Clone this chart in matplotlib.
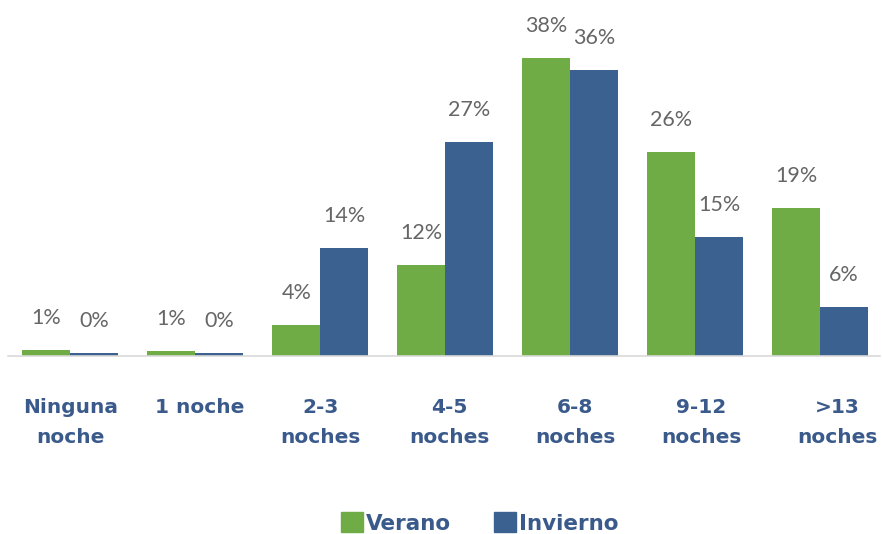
import matplotlib
matplotlib.use("Agg")
import matplotlib.pyplot as plt
import matplotlib.transforms as mtransforms
import numpy as np
from matplotlib.patches import Patch

categories = ["Ninguna\nnoche", "1 noche", "2-3\nnoches", "4-5\nnoches", "6-8\nnoches", "9-12\nnoches", ">13\nnoches"]
verano = [0.8, 0.7, 4.0, 11.6, 38.0, 26.0, 18.9]
invierno = [0.4, 0.4, 13.8, 27.3, 36.5, 15.2, 6.3]
series_names = ["Verano", "Invierno"]

green = "#6FAC46"
blue = "#3A6190"
label_blue = "#3A5A8C"
val_gray = "#666666"

fig = plt.figure(figsize=(8.82, 5.34), dpi=100)
ax = fig.add_axes([8/882, 1 - 356/534, (880-8)/882, (356-20)/534])

x = np.arange(len(categories))
w = 0.384
b1 = ax.bar(x - w/2, verano, w, color=green)
b2 = ax.bar(x + w/2, invierno, w, color=blue)

ax.set_xlim(-0.5, 6.48)
ax.set_ylim(0, 42.86)

for bars, vals in ((b1, verano), (b2, invierno)):
    for rect, v in zip(bars, vals):
        ax.annotate(f"{round(v):.0f}%", (rect.get_x() + rect.get_width()/2, rect.get_height()),
                    xytext=(0, 23), textcoords="offset points", ha="center", va="center",
                    fontsize=15.5, color=val_gray, family=["Lato", "DejaVu Sans"])

for s in ["top", "right", "left"]:
    ax.spines[s].set_visible(False)
ax.spines["bottom"].set_color("#D9D9D9")
ax.spines["bottom"].set_linewidth(1.2)
ax.set_yticks([])
ax.set_xticks(x)
ax.set_xticklabels(categories, fontsize=14.5, fontweight="bold", color=label_blue, linespacing=1.75)
ax.tick_params(axis="x", length=0, pad=30)

offsets_px = [0, 4, 0, 4, 5, 6, 17]
for lab, dx in zip(ax.get_xticklabels(), offsets_px):
    lab.set_transform(lab.get_transform() + mtransforms.ScaledTranslation(dx/100, 0, fig.dpi_scale_trans))

handles = [Patch(color=green), Patch(color=blue)]
leg = fig.legend(handles, series_names, loc="center", bbox_to_anchor=(480/882, 1 - 523/534),
                 ncol=2, frameon=False, handlelength=1.0, handleheight=1.0, handletextpad=0.15,
                 columnspacing=2.0, prop={"weight": "bold", "size": 15.5})
for t in leg.get_texts():
    t.set_color(label_blue)

fig.savefig("out.png", dpi=100)
